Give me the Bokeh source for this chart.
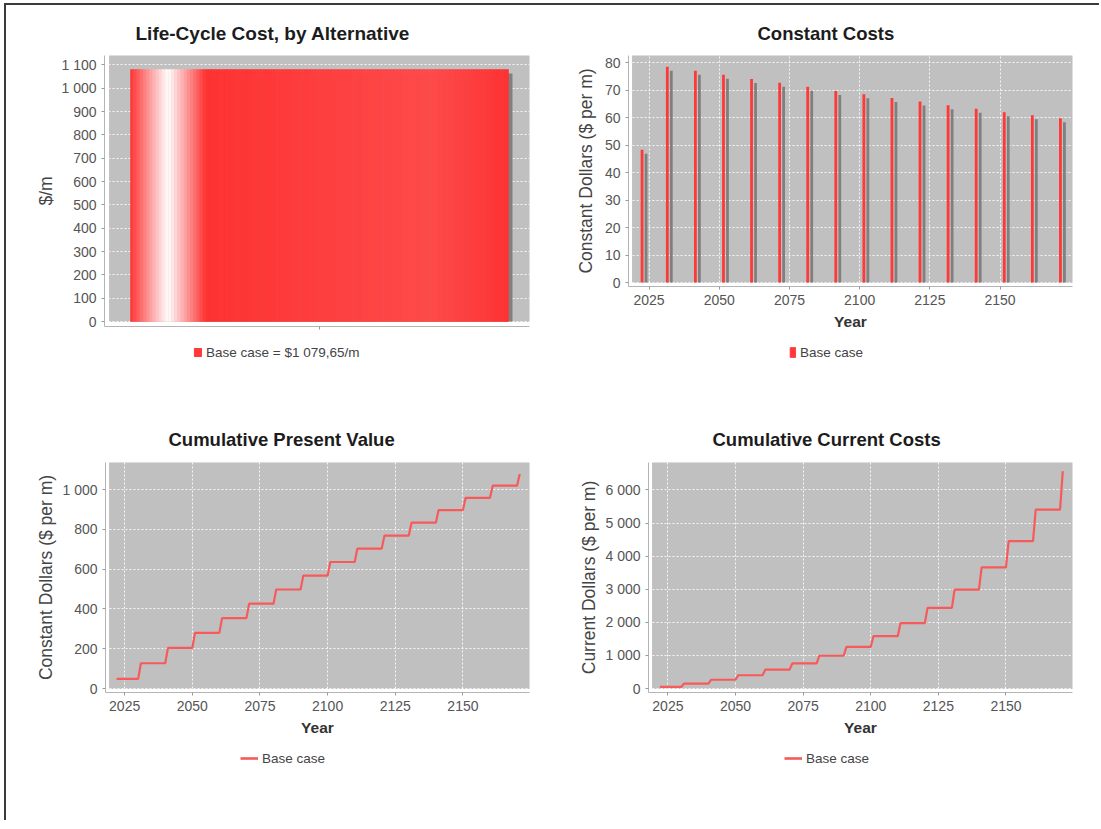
import numpy as np
from bokeh.plotting import figure
from bokeh.models import (Range1d, FixedTicker, BoxAnnotation, Legend, LegendItem, Div)
from bokeh.layouts import row, column
from bokeh.embed import file_html
from bokeh.resources import INLINE

# ---------------- data ----------------
series_name = "Base case"
lcc_value = 1079.65
lcc_label = "Base case = $1 079,65/m"

cost_years = [2022, 2031, 2041, 2051, 2061, 2071, 2081, 2091, 2101, 2111,
              2121, 2131, 2141, 2151, 2161, 2171]
constant_costs = [48.4, 78.6, 77.1, 75.7, 74.1, 72.8, 71.3, 69.8, 68.6, 67.2,
                  65.9, 64.6, 63.3, 62.0, 60.9, 59.8]
cumulative_pv = [48.4, 127.0, 204.1, 279.8, 353.9, 426.7, 498.0, 567.8, 636.4, 703.6,
                 769.5, 834.1, 897.4, 959.4, 1020.3, 1079.65]
cumulative_current = [52, 150, 265, 400, 570, 760, 990, 1260, 1580, 1975,
                      2435, 2990, 3660, 4455, 5405, 6565]

lcc_yticks = [0, 100, 200, 300, 400, 500, 600, 700, 800, 900, 1000, 1100]
lcc_ylabels = ["0", "100", "200", "300", "400", "500", "600", "700", "800", "900", "1 000", "1 100"]
cc_yticks = [0, 10, 20, 30, 40, 50, 60, 70, 80]
year_ticks = [2025, 2050, 2075, 2100, 2125, 2150]
pv_yticks = [0, 200, 400, 600, 800, 1000]
pv_ylabels = ["0", "200", "400", "600", "800", "1 000"]
cur_yticks = [0, 1000, 2000, 3000, 4000, 5000, 6000]
cur_ylabels = ["0", "1 000", "2 000", "3 000", "4 000", "5 000", "6 000"]

# ---------------- style ----------------
FONT = "Liberation Sans"
PLOT_BG = "#c0c0c0"
OUTLINE = "#808080"
SHADOW = "#808080"
RED = "#ff3838"
LINE_RED = "#f65a5a"
TICK_COLOR = "#555555"


def make_fig(title, title_off, w, h, bl, br, bt, bb, xr, yr, gray_x0, px_x, px_y,
             off=4, title_standoff=24):
    x0 = gray_x0 - off / px_x
    y0 = -off / px_y
    p = figure(width=w, height=h, x_range=Range1d(x0, xr), y_range=Range1d(y0, yr),
               output_backend="svg", toolbar_location=None,
               min_border_left=bl, min_border_right=br, min_border_top=bt, min_border_bottom=bb,
               background_fill_color="white", border_fill_color="white",
               outline_line_color=None, frame_align=False)
    p.add_layout(BoxAnnotation(left=gray_x0, bottom=0, fill_color=PLOT_BG, fill_alpha=1.0,
                               line_color=OUTLINE, line_width=1, level="image"))
    p.title.text = title
    p.title.align = "left"
    p.title.offset = title_off
    p.title.text_font = FONT
    p.title.text_font_size = "18.5px"
    p.title.text_font_style = "bold"
    p.title.text_color = "#1c1c1c"
    p.title.standoff = title_standoff
    for ax in (p.xaxis[0], p.yaxis[0]):
        ax.axis_line_color = "#b4b4b4"
        ax.major_tick_line_color = "#9a9a9a"
        ax.major_tick_out = 3
        ax.major_tick_in = 0
        ax.minor_tick_line_color = None
        ax.major_label_text_font = FONT
        ax.major_label_text_font_size = "14px"
        ax.major_label_text_color = TICK_COLOR
        ax.major_label_standoff = 5
        ax.axis_label_text_font = FONT
    p.yaxis.axis_label_text_font_size = "17.5px"
    p.yaxis.axis_label_text_font_style = "normal"
    p.yaxis.axis_label_text_color = "#444444"
    p.yaxis.axis_label_standoff = 3
    p.xaxis.axis_label_text_font_size = "15.5px"
    p.xaxis.axis_label_text_font_style = "bold"
    p.xaxis.axis_label_text_color = "#333333"
    p.xaxis.axis_label_standoff = 5
    for g in (p.xgrid[0], p.ygrid[0]):
        g.grid_line_color = "white"
        g.grid_line_dash = "2 2"
        g.grid_line_alpha = 0.85
        g.grid_line_width = 1
    return p


def set_ticks(ax, grid, ticks, labels=None):
    t = FixedTicker(ticks=ticks)
    ax.ticker = t
    grid.ticker = t
    if labels is not None:
        ax.major_label_overrides = {float(k): v for k, v in zip(ticks, labels)}


def legend_fig(w, h, label, kind, vx, vy, gw, gh):
    """A small strip under a chart that holds only its legend."""
    lf = figure(width=w, height=h, x_range=Range1d(0, w), y_range=Range1d(0, h),
                x_axis_type=None, y_axis_type=None, output_backend="svg",
                toolbar_location=None, min_border=0, outline_line_color=None,
                background_fill_color="white", border_fill_color="white", frame_align=False)
    lf.xgrid.visible = False
    lf.ygrid.visible = False
    # swatch source sits outside the strip's visible range; only the legend shows it
    if kind == "bar":
        r = lf.quad(left=[-20], right=[-10], bottom=[-20], top=[-10],
                    fill_color=RED, line_color=RED)
    else:
        r = lf.line(x=[-20, -10], y=[-20, -20], line_color=LINE_RED, line_width=2.6)
    leg = Legend(items=[LegendItem(label=label, renderers=[r])],
                 location=(vx, vy), orientation="horizontal",
                 glyph_width=gw, glyph_height=gh, label_standoff=4,
                 padding=0, margin=0, spacing=0, label_height=16,
                 border_line_color=None, background_fill_alpha=0,
                 label_text_font=FONT, label_text_font_size="13.5px",
                 label_text_color="#444444")
    lf.add_layout(leg)
    return lf


def lerp(a, b, t):
    return tuple(int(round(a[i] + (b[i] - a[i]) * t)) for i in range(3))


def grad_color(t):
    c0, c1, w = (255, 50, 50), (255, 74, 74), (255, 255, 255)
    if t < 0.1:
        c = lerp(c0, w, t / 0.1)
    elif t < 0.2:
        c = lerp(w, c0, (t - 0.1) / 0.1)
    elif t < 0.8:
        c = lerp(c0, c1, (t - 0.2) / 0.6)
    else:
        c = lerp(c1, c0, (t - 0.8) / 0.2)
    return "#%02x%02x%02x" % c


# charts start at page (6, 5), just inside the frame lines
# ---------------- chart 1: Life-Cycle Cost ----------------
px1_x, px1_y = 420.0, 266.0 / 1140.0
p1 = make_fig("Life-Cycle Cost, by Alternative", 31, 550, 335, 98, 27, 50, 14,
              1.0, 1140, 0.0, px1_x, px1_y, off=5)
bar_c, bar_w = 0.5, 0.9
p1.quad(left=[bar_c - bar_w / 2 + 4 / px1_x], right=[bar_c + bar_w / 2 + 4 / px1_x],
        bottom=[0], top=[lcc_value - 4 / px1_y], fill_color=SHADOW, line_color=None)
n = 120
edges = [bar_c - bar_w / 2 + bar_w * i / n for i in range(n + 1)]
cols = [grad_color((i + 0.5) / n) for i in range(n)]
p1.quad(left=edges[:-1], right=edges[1:], bottom=[0] * n, top=[lcc_value] * n,
        fill_color=cols, line_color=cols, line_width=0.6)
set_ticks(p1.yaxis[0], p1.ygrid[0], lcc_yticks, lcc_ylabels)
p1.xaxis.ticker = FixedTicker(ticks=[bar_c])
p1.xaxis.major_label_text_font_size = "0px"
p1.xaxis.major_label_text_color = None
p1.xaxis.major_label_standoff = 0
p1.xgrid.visible = False
p1.yaxis.axis_label = "$/m"
p1.yaxis.axis_label_standoff = 2
p1.title.text_font_size = "19px"
l1 = legend_fig(550, 60, lcc_label, "bar", 187, 40, 9, 10)

# ---------------- chart 2: Constant Costs ----------------
px2_x, px2_y = 440.0 / (2175.8 - 2019.1), 227.0 / 82.7
p2 = make_fig("Constant Costs", 129, 535, 335, 72, 19, 50, 54,
              2175.8, 82.7, 2019.1, px2_x, px2_y)
yrs = np.array(cost_years, dtype=float)
vals = np.array(constant_costs)
p2.quad(left=yrs + 4 / px2_x, right=yrs + 1 + 4 / px2_x, bottom=0, top=vals - 4 / px2_y,
        fill_color=SHADOW, line_color=None)
p2.quad(left=yrs, right=yrs + 1, bottom=0, top=vals, fill_color=RED, line_color=None)
set_ticks(p2.yaxis[0], p2.ygrid[0], cc_yticks)
set_ticks(p2.xaxis[0], p2.xgrid[0], year_ticks)
p2.yaxis.axis_label = "Constant Dollars ($ per m)"
p2.yaxis.axis_label_standoff = 6
p2.xaxis.axis_label = "Year"
l2 = legend_fig(535, 60, series_name, "bar", 233, 40, 7, 12)


def step_points(years, cum):
    xs, ys = [years[0]], [cum[0]]
    for i in range(1, len(years)):
        xs += [years[i] - 1, years[i]]
        ys += [cum[i - 1], cum[i]]
    return xs, ys


# ---------------- chart 3: Cumulative Present Value ----------------
px3_x, px3_y = 420.0 / (2174.6 - 2019.4), 226.0 / 1137.0
p3 = make_fig("Cumulative Present Value", 63, 550, 345, 99, 27, 62, 53,
              2174.6, 1137, 2019.4, px3_x, px3_y, title_standoff=25)
xs, ys = step_points(cost_years, cumulative_pv)
p3.line(xs, ys, line_color=LINE_RED, line_width=2.2)
set_ticks(p3.yaxis[0], p3.ygrid[0], pv_yticks, pv_ylabels)
set_ticks(p3.xaxis[0], p3.xgrid[0], year_ticks)
p3.yaxis.axis_label = "Constant Dollars ($ per m)"
p3.xaxis.axis_label = "Year"
l3 = legend_fig(550, 60, series_name, "line", 234, 39, 18, 12)

# ---------------- chart 4: Cumulative Current Costs ----------------
px4_x, px4_y = 420.0 / (2174.6 - 2019.3), 226.0 / 6830.0
p4 = make_fig("Cumulative Current Costs", 64, 535, 345, 92, 19, 62, 53,
              2174.6, 6830, 2019.3, px4_x, px4_y, title_standoff=25)
xs, ys = step_points(cost_years, cumulative_current)
p4.line(xs, ys, line_color=LINE_RED, line_width=2.2)
set_ticks(p4.yaxis[0], p4.ygrid[0], cur_yticks, cur_ylabels)
set_ticks(p4.xaxis[0], p4.xgrid[0], year_ticks)
p4.yaxis.axis_label = "Current Dollars ($ per m)"
p4.xaxis.axis_label = "Year"
l4 = legend_fig(535, 60, series_name, "line", 228, 39, 18, 12)

top_spacer = Div(text="", width=10, height=3, margin=0)
left_spacer = Div(text="", width=4, height=10, margin=0)
top_line = Div(text="", width=1095, height=2, margin=0,
               styles={"background-color": "#3a3a3a"})
left_line = Div(text="", width=2, height=815, margin=0,
                styles={"background-color": "#3a3a3a"})

charts = column(row(column(p1, l1), column(p2, l2)), row(column(p3, l3), column(p4, l4)))
layout = column(top_spacer,
                row(left_spacer, column(top_line, row(left_line, charts))))

open("out.html", "w").write(file_html(layout, INLINE))
